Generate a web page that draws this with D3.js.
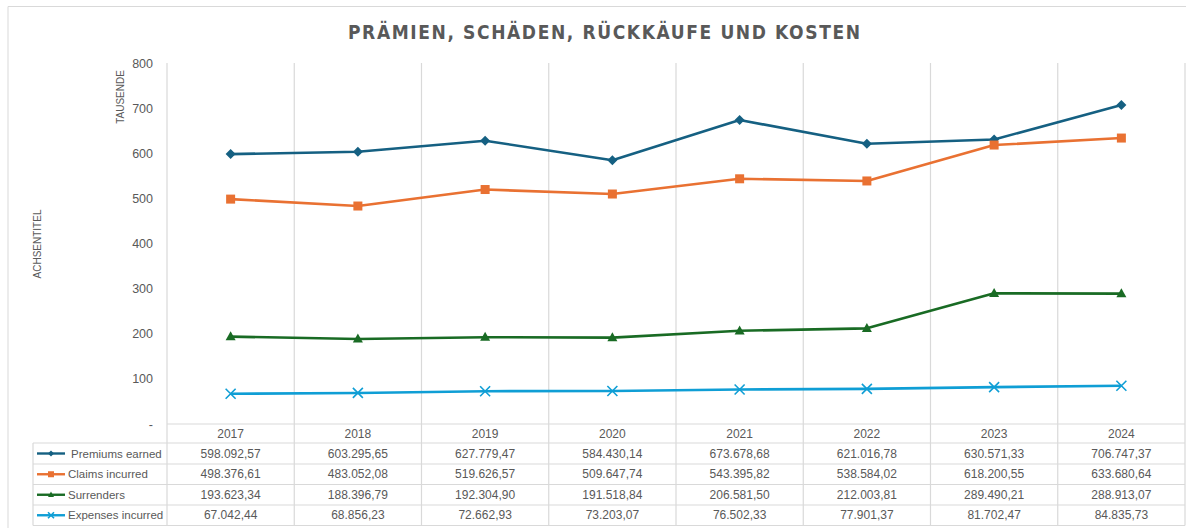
<!DOCTYPE html>
<html>
<head>
<meta charset="utf-8">
<script src="https://cdn.jsdelivr.net/npm/d3@7"></script>
<style>
  body { margin: 0; background: #fff; }
  text { font-family: "Liberation Sans", Arial, sans-serif; }
</style>
</head>
<body>
<svg id="paper"></svg>
<script>
// chart data
const years = ["2017", "2018", "2019", "2020", "2021", "2022", "2023", "2024"];
const premiums = [598092.57, 603295.65, 627779.47, 584430.14, 673678.68, 621016.78, 630571.33, 706747.37];
const claims = [498376.61, 483052.08, 519626.57, 509647.74, 543395.82, 538584.02, 618200.55, 633680.64];
const surrenders = [193623.34, 188396.79, 192304.90, 191518.84, 206581.50, 212003.81, 289490.21, 288913.07];
const expenses = [67042.44, 68856.23, 72662.93, 73203.07, 76502.33, 77901.37, 81702.47, 84835.73];
const seriesNames = ["Premiums earned", "Claims incurred", "Surrenders", "Expenses incurred"];
const yTicks = [0, 100, 200, 300, 400, 500, 600, 700, 800];

const series = [
    {name: seriesNames[0], values: premiums, color: "#156082", marker: "diamond"},
    {name: seriesNames[1], values: claims, color: "#E97132", marker: "square"},
    {name: seriesNames[2], values: surrenders, color: "#196B24", marker: "triangle"},
    {name: seriesNames[3], values: expenses, color: "#0F9ED5", marker: "x"}
];

const W = 1186, H = 528;
const plot = {left: 167, right: 1185, top: 63, bottom: 424};
const rowH = [19, 21, 20.5, 20.5, 20.5];
const tableLeft = 33;
const grid = "#d9d9d9";

const svg = d3.select("#paper").attr("width", W).attr("height", H);
svg.append("rect").attr("width", W).attr("height", H).attr("fill", "#fff");

// outer frame
svg.append("path")
    .attr("d", `M8,${H} V6.5 H${W}`)
    .attr("fill", "none").attr("stroke", grid);

// title
svg.append("text")
    .attr("x", 604).attr("y", 39)
    .attr("text-anchor", "middle")
    .attr("textLength", 512).attr("lengthAdjust", "spacing")
    .style("font-family", "'DejaVu Sans Condensed', 'DejaVu Sans', sans-serif")
    .style("font-weight", "bold").style("font-size", "19px")
    .attr("fill", "#595959")
    .text("PRÄMIEN, SCHÄDEN, RÜCKKÄUFE UND KOSTEN");

const x = d3.scaleBand().domain(years).range([plot.left, plot.right]);
const y = d3.scaleLinear().domain([0, 800]).range([plot.bottom, plot.top]);
const cx = d => x(d) + x.bandwidth() / 2;

// vertical gridlines, running down through the table
const tableBottom = plot.bottom + d3.sum(rowH);
const bounds = years.map(d => x(d)).concat([plot.right]);
svg.append("g").selectAll("line").data(bounds).join("line")
    .attr("x1", d => d).attr("x2", d => d)
    .attr("y1", plot.top).attr("y2", tableBottom)
    .attr("stroke", grid).attr("stroke-width", 1.2);

// table horizontal lines
let acc = plot.bottom;
const rowLines = [acc];
rowH.forEach(h => { acc += h; rowLines.push(acc); });
svg.append("g").selectAll("line").data(rowLines).join("line")
    .attr("x1", (d, i) => i === 0 ? plot.left : tableLeft)
    .attr("x2", plot.right)
    .attr("y1", d => d).attr("y2", d => d)
    .attr("stroke", grid).attr("stroke-width", 1.2);
svg.append("line")
    .attr("x1", tableLeft).attr("x2", tableLeft)
    .attr("y1", rowLines[1]).attr("y2", tableBottom)
    .attr("stroke", grid).attr("stroke-width", 1.2);

// y axis
const yAxis = d3.axisLeft(y).tickValues(yTicks)
    .tickFormat(d => d === 0 ? "-" : d).tickSize(0).tickPadding(14);
svg.append("g")
    .attr("transform", `translate(${plot.left},0)`)
    .call(yAxis)
    .call(g => g.select(".domain").remove())
    .selectAll("text")
    .style("font-family", "'Liberation Sans', Arial, sans-serif")
    .style("font-size", "12.5px").attr("fill", "#595959");

// axis titles
svg.append("text")
    .attr("transform", "translate(124,97) rotate(-90)")
    .attr("text-anchor", "middle")
    .style("font-size", "10px").attr("fill", "#595959")
    .text("TAUSENDE");
svg.append("text")
    .attr("transform", "translate(41,244) rotate(-90)")
    .attr("text-anchor", "middle")
    .style("font-size", "10px").attr("fill", "#595959")
    .text("ACHSENTITEL");

// markers
function drawMarker(sel, type, color, size) {
    const s = size / 2;
    if (type === "x") {
        sel.append("path")
            .attr("d", `M${-s},${-s}L${s},${s}M${-s},${s}L${s},${-s}`)
            .attr("stroke", color).attr("stroke-width", 1.6).attr("fill", "none");
    } else if (type === "diamond") {
        sel.append("path")
            .attr("d", `M0,${-s}L${s},0L0,${s}L${-s},0Z`)
            .attr("fill", color);
    } else if (type === "square") {
        sel.append("rect")
            .attr("x", -s).attr("y", -s).attr("width", size).attr("height", size)
            .attr("fill", color);
    } else {
        const h = size * 0.9;
        sel.append("path")
            .attr("d", `M0,${-h * 0.6}L${s},${h * 0.4}L${-s},${h * 0.4}Z`)
            .attr("fill", color);
    }
}

// lines
const line = d3.line().x((d, i) => cx(years[i])).y(d => y(d / 1000));
series.forEach(s => {
    svg.append("path")
        .datum(s.values)
        .attr("d", line)
        .attr("fill", "none")
        .attr("stroke", s.color)
        .attr("stroke-width", 2.6)
        .attr("stroke-linejoin", "round");
    s.values.forEach((v, i) => {
        const g = svg.append("g").attr("transform", `translate(${cx(years[i])},${y(v / 1000)})`);
        drawMarker(g, s.marker, s.color, s.marker === "square" ? 9 : 10);
    });
});

// data table
const fmt = d3.formatLocale({decimal: ",", thousands: ".", grouping: [3], currency: ["", ""]}).format(",.2f");
const tableText = "#595959";
svg.append("g").selectAll("text").data(years).join("text")
    .attr("x", d => cx(d)).attr("y", rowLines[0] + rowH[0] / 2 + 4)
    .attr("text-anchor", "middle")
    .style("font-size", "12px").attr("fill", tableText)
    .text(d => d);

series.forEach((s, r) => {
    const yMid = rowLines[r + 1] + rowH[r + 1] / 2;
    svg.append("g").selectAll("text").data(s.values).join("text")
        .attr("x", (d, i) => cx(years[i])).attr("y", yMid + 4)
        .attr("text-anchor", "middle")
        .style("font-size", "12px").attr("fill", tableText)
        .text(d => fmt(d));
    // legend key
    svg.append("line")
        .attr("x1", 37).attr("x2", 65)
        .attr("y1", yMid).attr("y2", yMid)
        .attr("stroke", s.color).attr("stroke-width", 2.4);
    const g = svg.append("g").attr("transform", `translate(51,${yMid})`);
    drawMarker(g, s.marker, s.color, 6);
    svg.append("text")
        .attr("x", r === 0 ? 71 : 68).attr("y", yMid + 4)
        .style("font-size", "11.5px").attr("fill", tableText)
        .text(s.name);
});
</script>
</body>
</html>
